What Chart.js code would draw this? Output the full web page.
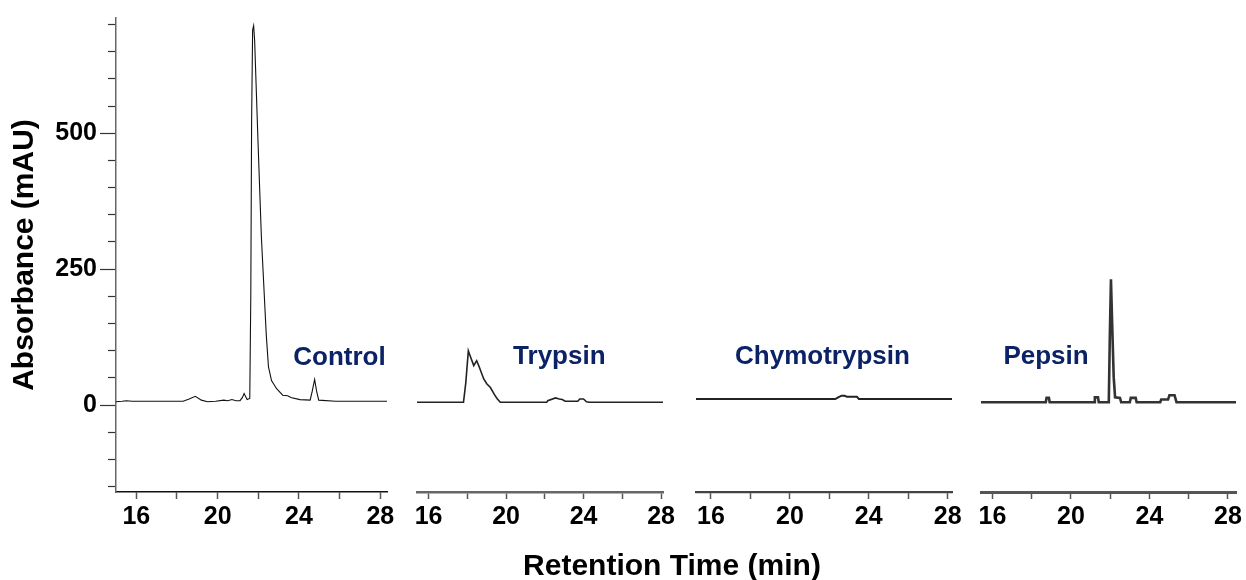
<!DOCTYPE html>
<html>
<head>
<meta charset="utf-8">
<title>Retention profiles</title>
<script src="https://cdn.jsdelivr.net/npm/chart.js@4.4.1/dist/chart.umd.min.js"></script>
<style>
  html, body { margin: 0; padding: 0; background: #fff; }
  #wrap { position: relative; width: 1246px; height: 580px; overflow: hidden; }
  #wrap canvas { position: absolute; left: 0; top: 0; }
  #xTitle {
    position: absolute; left: 472px; width: 400px; top: 547px;
    text-align: center; color: #000;
    font: bold 30px "Liberation Sans", Arial, Helvetica, sans-serif; line-height: 36px;
  }
</style>
</head>
<body>
<div id="wrap">
  <canvas id="chartControl" width="1246" height="580"></canvas>
  <canvas id="chartTrypsin" width="1246" height="580"></canvas>
  <canvas id="chartChymotrypsin" width="1246" height="580"></canvas>
  <canvas id="chartPepsin" width="1246" height="580"></canvas>
  <div id="xTitle">Retention Time (min)</div>
</div>
<script>
const FONT = '"Liberation Sans", Arial, Helvetica, sans-serif';

// retention time (min) / absorbance (mAU) for each digest
const controlTime = [15.0, 15.3, 15.5, 15.8, 16.5, 17.5, 18.3, 18.6, 18.9, 19.2, 19.5, 19.9, 20.3, 20.5, 20.7, 20.9, 21.1, 21.22, 21.3, 21.45, 21.58, 21.63, 21.67, 21.72, 21.77, 21.82, 21.98, 22.15, 22.31, 22.39, 22.5, 22.65, 22.9, 23.2, 23.45, 23.6, 24.05, 24.55, 24.65, 24.77, 24.87, 24.97, 25.8, 28.33];
const controlAbs = [6, 7, 8, 7, 7, 7, 7, 11, 16, 9, 6, 7, 9, 8, 10, 8, 8, 14, 21, 10, 12, 200, 520, 690, 698, 670, 490, 310, 190, 130, 70, 45, 30, 18, 17, 14, 10, 9, 25, 47, 25, 9, 7, 7];

const trypsinTime = [15.4, 17.8, 17.92, 18.05, 18.15, 18.33, 18.48, 18.6, 18.84, 19.0, 19.19, 19.4, 19.53, 19.7, 22.1, 22.15, 22.55, 22.75, 22.9, 23.05, 23.7, 23.8, 24.0, 24.15, 24.3, 28.1];
const trypsinAbs = [4, 4, 40, 98, 88, 71, 80, 70, 47, 38, 31, 18, 11, 4, 4, 7, 12, 10, 9, 6, 6, 10, 10, 5, 4, 4];

const chymoTime = [15.24, 22.3, 22.45, 22.62, 22.78, 22.9, 23.4, 23.5, 28.22];
const chymoAbs = [10, 10, 13, 16, 16, 14, 14, 10, 10];

const pepsinTime = [15.42, 18.72, 18.76, 18.88, 18.92, 21.18, 21.22, 21.38, 21.42, 21.93, 21.98, 22.04, 22.1, 22.18, 22.25, 22.5, 22.56, 23.0, 23.05, 23.3, 23.35, 24.55, 24.6, 24.95, 25.02, 25.28, 25.38, 28.41];
const pepsinAbs = [4, 4, 12, 12, 4, 4, 13, 13, 4, 4, 120, 229, 150, 50, 13, 12, 4, 4, 12, 12, 4, 4, 9, 9, 17, 17, 4, 4];

// axis ticks
const yTicks = [-150, -100, -50, 0, 50, 100, 150, 200, 250, 300, 350, 400, 450, 500, 550, 600, 650, 700];
const yTickLabels = [0, 250, 500];
const xTicks = [16, 18, 20, 22, 24, 26, 28];
const xTickLabels = [16, 20, 24, 28];
const Y_MIN = -160;
const Y_MAX = 712;

// sample name written inside each panel
const panelLabel = {
  id: "panelLabel",
  afterDatasetsDraw(chart, args, opts) {
    if (!opts || !opts.text) return;
    const { ctx, scales } = chart;
    ctx.save();
    ctx.font = `bold 26px ${FONT}`;
    ctx.fillStyle = "#0b2366";
    ctx.textAlign = "left";
    ctx.textBaseline = "alphabetic";
    ctx.fillText(opts.text, scales.x.getPixelForValue(opts.x), scales.y.getPixelForValue(opts.y));
    ctx.restore();
  }
};
Chart.register(panelLabel);

const panels = [
  { id: "chartControl", name: "Control", time: controlTime, abs: controlAbs, xMin: 15.0, xMax: 28.33, left: 116, right: 387, labelAt: 23.72,
    showY: true, line: "#111", lineWidth: 1.1, axis: "#111", axisWidth: 1.5 },
  { id: "chartTrypsin", name: "Trypsin", time: trypsinTime, abs: trypsinAbs, xMin: 15.4, xMax: 28.1, left: 417, right: 663, labelAt: 20.36,
    showY: false, line: "#222", lineWidth: 1.6, axis: "#666", axisWidth: 2.5 },
  { id: "chartChymotrypsin", name: "Chymotrypsin", time: chymoTime, abs: chymoAbs, xMin: 15.24, xMax: 28.22, left: 696, right: 952, labelAt: 17.22,
    showY: false, line: "#222", lineWidth: 2, axis: "#444", axisWidth: 2.2 },
  { id: "chartPepsin", name: "Pepsin", time: pepsinTime, abs: pepsinAbs, xMin: 15.42, xMax: 28.41, left: 981, right: 1236, labelAt: 16.56,
    showY: false, line: "#333", lineWidth: 2.6, axis: "#555", axisWidth: 3 },
];

const tickFont = { family: FONT, size: 25, weight: "bold" };

function drawPanel(p) {
  const canvas = document.getElementById(p.id);
  if (!canvas) return;
  const points = p.time.map((t, i) => ({ x: t, y: p.abs[i] }));
  const isMajorY = c => yTickLabels.includes(c.tick.value);

  const config = {
    type: "line",
    data: {
      datasets: [{
        label: p.name,
        data: points,
        borderColor: p.line,
        borderWidth: p.lineWidth,
        pointRadius: 0,
        tension: 0,
        fill: false,
      }]
    },
    options: {
      responsive: false,
      animation: false,
      events: [],
      layout: { padding: { left: p.showY ? 0 : p.left, right: 1246 - p.right, top: 15, bottom: 48 } },
      plugins: {
        legend: { display: false },
        tooltip: { enabled: false },
        panelLabel: { text: p.name, x: p.labelAt, y: 74 },
      },
      scales: {
        x: {
          type: "linear",
          min: p.xMin,
          max: p.xMax,
          afterBuildTicks: s => { s.ticks = xTicks.map(v => ({ value: v })); },
          afterFit: s => { s.height = 40; },
          border: { display: true, color: p.axis, width: p.axisWidth },
          grid: { drawOnChartArea: false, tickLength: 7, tickColor: "#555", tickWidth: 1.5 },
          ticks: {
            autoSkip: false,
            maxRotation: 0,
            padding: 3,
            color: "#000",
            font: tickFont,
            callback: v => xTickLabels.includes(v) ? String(v) : "",
          },
        },
        y: {
          display: p.showY,
          min: Y_MIN,
          max: Y_MAX,
          afterBuildTicks: s => { s.ticks = yTicks.map(v => ({ value: v })); },
          afterFit: s => { if (p.showY) s.width = 116; },
          border: { display: true, color: "#666", width: 1.5 },
          grid: {
            drawOnChartArea: false,
            tickLength: 16,
            tickColor: "#333",
            tickWidth: 1.2,
            // minor ticks only cover the half next to the axis
            tickBorderDash: c => isMajorY(c) ? [] : [8, 8],
            tickBorderDashOffset: c => isMajorY(c) ? 0 : 8,
          },
          ticks: {
            autoSkip: false,
            padding: 3,
            color: "#000",
            font: tickFont,
            callback: v => yTickLabels.includes(v) ? String(v) : "",
          },
          title: {
            display: true,
            text: "Absorbance (mAU)",
            color: "#000",
            font: { family: FONT, size: 30, weight: "bold", lineHeight: 1.2 },
            padding: { top: 7, bottom: 0 },
          },
        },
      },
    },
  };

  return new Chart(canvas.getContext("2d"), config);
}

panels.forEach(drawPanel);
</script>
</body>
</html>
